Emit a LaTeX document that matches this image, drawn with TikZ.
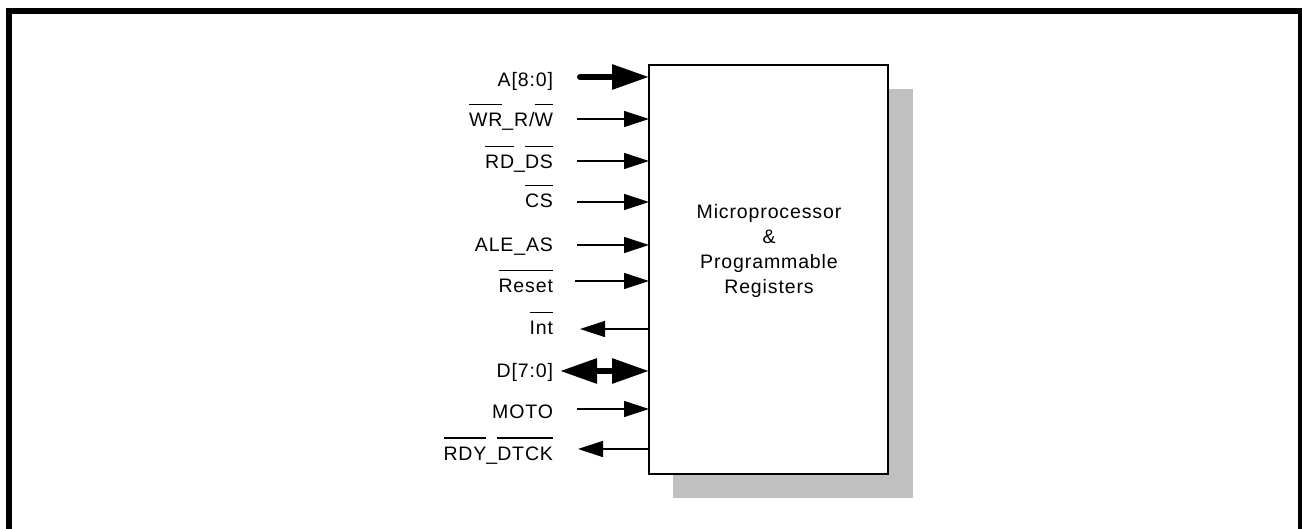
\documentclass[tikz,border=0pt]{standalone}
\usepackage{fontspec}
\newfontfamily\arialsp[LetterSpace=4.5]{Liberation Sans}
\usetikzlibrary{arrows.meta}
\definecolor{shadowgray}{HTML}{C0C0C0}
\newcommand\ovl[1]{\leavevmode\setbox0\hbox{#1}\rlap{\raisebox{21.5pt}{\rule{\wd0}{1.4pt}}}\box0}
\begin{document}
\begin{tikzpicture}[x=1pt,y=-1pt,
  lab/.style={inner sep=0pt, outer sep=0pt, anchor=base east, font=\arialsp\fontsize{19.5}{25.3}\selectfont},
  sig/.style={line width=1.3pt, -{Triangle[length=25pt,width=16pt]}},
  sigin/.style={line width=1.3pt, {Triangle[length=25pt,width=16pt]}-},
  bus/.style={line width=6pt, line cap=round, -{Triangle[length=37pt,width=24pt]}},
  bibus/.style={line width=6pt, {Triangle[length=37pt,width=24pt]}-{Triangle[length=37pt,width=24pt]}}]
\useasboundingbox (0,0) rectangle (1302,529);
\begin{scope}
\clip (0,0) rectangle (1302,529);
\draw[line width=6pt] (9,545) -- (9,11) -- (1300.5,11) -- (1300.5,545);
\end{scope}
% shadow and block
\fill[shadowgray] (673,89) rectangle (913,498);
\node[draw, fill=white, line width=1.3pt, inner sep=0pt, outer sep=0pt,
      minimum width=239pt, minimum height=409pt, anchor=north west] (mp) at (649,65) {};
\node[inner sep=0pt, align=center, anchor=base, font=\arialsp\fontsize{19.5}{25.3}\selectfont] (txt) at (769,294)
  {Microprocessor\\\&\\Programmable\\Registers};
% labels
\node[lab] (lA)   at (553,87)  {A[8:0]};
\node[lab] (lWR)  at (553,127) {\ovl{WR}\_R/\ovl{W}};
\node[lab] (lRD)  at (553,169) {\ovl{RD}\_\ovl{DS}};
\node[lab] (lCS)  at (553,208) {\ovl{CS}};
\node[lab] (lALE) at (553,252) {ALE\_AS};
\node[lab] (lRst) at (553,293) {\ovl{Reset}};
\node[lab] (lInt) at (553,335) {\ovl{Int}};
\node[lab] (lD)   at (553,378) {D[7:0]};
\node[lab] (lM)   at (553,418) {MOTO};
\node[lab] (lRDY) at (553,460) {\ovl{RDY}\_\ovl{DTCK}};
% connector start points
\coordinate (sA)   at (580,77);
\coordinate (sWR)  at (577,119);
\coordinate (sRD)  at (577,161);
\coordinate (sCS)  at (577,202);
\coordinate (sALE) at (577,245);
\coordinate (sRst) at (575,281);
\coordinate (sInt) at (580,329);
\coordinate (sD)   at (560,371);
\coordinate (sM)   at (577,409);
\coordinate (sRDY) at (578,449);
% connectors
\draw[bus]   (sA)   -- (sA -| mp.west);
\draw[sig]   (sWR)  -- (sWR -| mp.west);
\draw[sig]   (sRD)  -- (sRD -| mp.west);
\draw[sig]   (sCS)  -- (sCS -| mp.west);
\draw[sig]   (sALE) -- (sALE -| mp.west);
\draw[sig]   (sRst) -- (sRst -| mp.west);
\draw[sigin] (sInt) -- (sInt -| mp.west);
\draw[bibus] (sD)   -- (sD -| mp.west);
\draw[sig]   (sM)   -- (sM -| mp.west);
\draw[sigin] (sRDY) -- (sRDY -| mp.west);
\end{tikzpicture}
\end{document}
